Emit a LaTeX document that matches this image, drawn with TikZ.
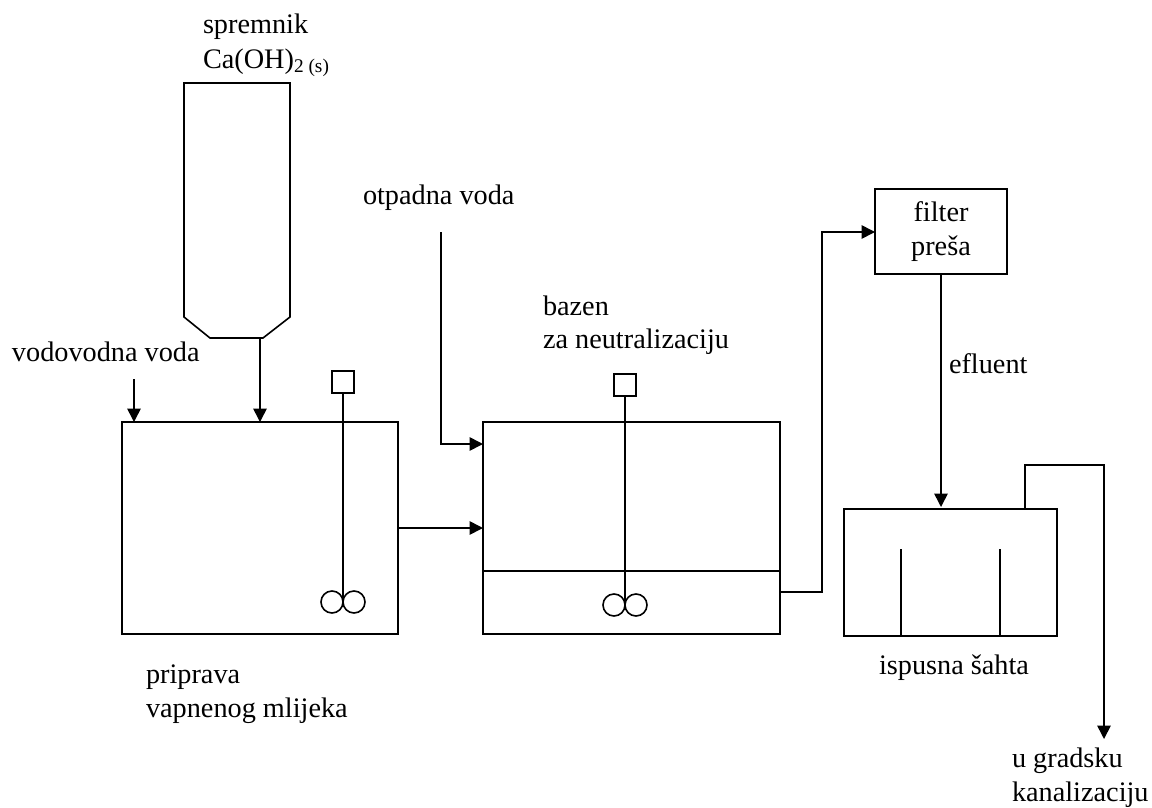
\documentclass[tikz,border=0pt]{standalone}
\usepackage{fontspec}
\setmainfont{Liberation Serif}
\usetikzlibrary{arrows.meta}
\tikzset{
  box/.style={draw,inner sep=0pt,outer sep=0pt,anchor=north west},
  txt/.style={inner sep=0pt,outer sep=0pt,anchor=north west,align=left,font=\fontsize{21.2}{25}\selectfont},
  flow/.style={-{Triangle[length=10pt,width=10pt]}},
}
\begin{document}
\begin{tikzpicture}[x=0.75pt,y=0.75pt,yscale=-1,xscale=1,line width=1.2pt,line join=miter]
\useasboundingbox (0,0) rectangle (1152,807);

%Tanks
\node [box,minimum width=207pt,minimum height=159pt] (tankA) at (122,422) {};
\node [box,minimum width=222.75pt,minimum height=159pt] (tankB) at (483,422) {};
\node [box,minimum width=99pt,minimum height=63.75pt,align=center,font=\fontsize{21.2}{25.5}\selectfont] (filter) at (875,189) {filter\\preša};
\node [box,minimum width=159.75pt,minimum height=95.25pt] (sump) at (844,509) {};
\draw (tankB.west |- 0,571) -- (tankB.east |- 0,571);
\draw (901,549) -- (901,636);
\draw (1000,549) -- (1000,636);

%Hopper
\draw (184,83) -- (290,83) -- (290,317) -- (263,338) -- (210,338) -- (184,317) -- cycle;
\coordinate (hopperout) at (260,338);

%Mixers
\node [box,minimum width=16.5pt,minimum height=16.5pt] (motorA) at (332,371) {};
\node [box,minimum width=16.5pt,minimum height=16.5pt] (motorB) at (614,374) {};
\coordinate (hubA) at (343,602);
\coordinate (hubB) at (625,605);
\draw (motorA.south) -- (hubA);
\draw (motorB.south) -- (hubB);
\draw (hubA) ++(-11,0) circle [radius=8.25pt];
\draw (hubA) ++(11,0) circle [radius=8.25pt];
\draw (hubB) ++(-11,0) circle [radius=8.25pt];
\draw (hubB) ++(11,0) circle [radius=8.25pt];

%Free ends
\coordinate (waterin) at (134,379);
\coordinate (wasteend) at (441,232);
\coordinate (wasteturn) at (441,444);
\coordinate (cityend) at (1104,739);

%Connectors
\draw [flow] (waterin) -- (waterin |- tankA.north);
\draw [flow] (hopperout) -- (hopperout |- tankA.north);
\draw [flow] (wasteend) -- (wasteturn) -- (wasteturn -| tankB.west);
\draw [flow] (tankA.east |- 0,528) -- (tankB.west |- 0,528);
\draw [flow] (tankB.east |- 0,592) -- (822,592) -- (822,232) -- (filter.west |- 0,232);
\draw [flow] (filter.south) -- (filter.south |- 0,507);
\draw [flow] (sump.north west -| 1025,0) -- (1025,465) -- (1104,465) -- (cityend);

% Text Node
\node [txt] (lblhopper) at (203,14) {spremnik\\[1pt]Ca(OH)\raisebox{-0.3ex}{\fontsize{14.5}{14}\selectfont 2 (s)}};
\node [txt] (lblwaste) at (363,185) {otpadna voda};
\node [txt] (lblbasin) at (543,296) {bazen\\za neutralizaciju};
\node [txt] (lblwater) at (12,342) {vodovodna voda};
\node [txt] (lbleff) at (949,354) {efluent};
\node [txt] (lblmilk) at (146,665) {priprava\\vapnenog mlijeka};
\node [txt] (lblsump) at (879,655) {ispusna šahta};
\node [txt] (lblcity) at (1012,748) {u gradsku\\[0.5pt]kanalizaciju};
\end{tikzpicture}
\end{document}
